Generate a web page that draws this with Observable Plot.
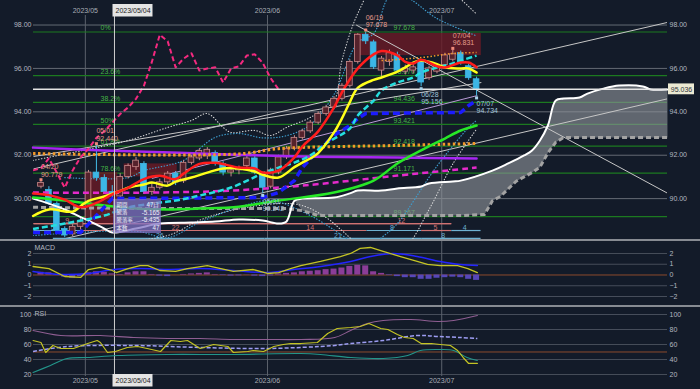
<!DOCTYPE html>
<html>
<head>
<meta charset="utf-8">
<script src="https://cdn.jsdelivr.net/npm/d3@7"></script>
<script src="https://cdn.jsdelivr.net/npm/@observablehq/plot@0.6"></script>
<style>
html,body{margin:0;padding:0;background:#131b29;}
#chart{position:relative;width:700px;height:389px;background:#131b29;overflow:hidden;}
#chart svg{position:absolute;left:0;display:block;}
.sep{position:absolute;left:0;width:700px;height:2px;background:#878b92;}
</style>
</head>
<body>
<div id="chart"></div>
<script>
// ================= DATA =================
const candleOpen  = [90.55,90.40,89.75,88.60,88.35,88.70,89.00,91.20,90.95,90.30,90.10,91.00,91.45,91.60,90.30,90.50,90.75,91.15,90.80,91.65,91.85,91.95,92.10,91.60,91.20,91.30,91.50,91.85,91.10,90.55,91.20,91.90,92.30,92.80,93.10,93.50,93.90,94.20,94.60,95.20,96.30,97.55,97.20,95.90,96.30,96.60,95.85,95.90,96.30,95.55,95.85,96.15,96.40,96.70,96.10,95.50];
const candleHigh  = [90.78,90.55,89.85,88.70,88.80,89.10,91.30,92.44,91.10,90.60,91.15,91.60,91.90,91.70,90.70,90.90,91.25,91.25,91.75,92.00,92.30,92.35,92.20,91.70,91.45,91.50,91.95,91.95,91.20,91.40,92.00,92.40,92.90,93.20,93.60,94.00,94.30,94.70,95.30,96.40,97.60,97.678,97.30,96.55,96.85,96.75,96.15,96.20,96.40,96.10,96.20,96.70,96.831,96.80,96.20,95.60];
const candleLow   = [90.45,89.70,88.40,88.20,88.25,88.55,88.90,90.80,90.20,90.05,90.00,90.90,91.30,90.20,90.15,90.40,90.65,90.60,90.70,91.55,91.75,91.80,91.50,91.05,91.00,91.10,91.40,91.10,90.242,90.45,91.10,91.80,92.20,92.70,93.00,93.40,93.80,94.10,94.50,95.10,96.20,97.10,95.95,95.60,96.10,95.80,95.70,95.75,95.156,95.45,95.75,96.05,96.30,96.15,95.45,94.734];
const candleClose = [90.72,89.78,88.50,88.30,88.70,88.95,91.20,90.95,90.30,90.15,91.00,91.50,91.75,90.30,90.50,90.75,91.15,90.75,91.65,91.90,92.20,92.25,91.60,91.20,91.30,91.40,91.85,91.20,90.50,91.30,91.90,92.30,92.80,93.10,93.50,93.90,94.20,94.60,95.20,96.30,97.55,97.25,96.05,96.45,96.70,95.90,96.00,96.05,95.35,96.00,96.10,96.60,96.65,96.25,95.55,95.036];

const priceTicks = [90, 92, 94, 96, 98];
const monthIdx = [6, 29, 51];
const monthLabels = ["2023/05", "2023/06", "2023/07"];
const crossIdx = 9;
const crossLabel = "2023/05/04";

const fibPct = ["0%", "23.6%", "38.2%", "50%", "61.8%", "78.6%", "100%"];
const fibVal = [97.678, 95.670, 94.436, 93.421, 92.418, 91.171, 89.167];

const hiIdx = [0, 7, 41, 52];
const hiVal = [90.779, 92.440, 97.678, 96.831];
const hiDate = ["04/20", "05/01", "06/19", "07/04"];
const loIdx = [28, 48, 55];
const loVal = [90.242, 95.156, 94.734];
const loDate = ["05/31", "06/28", "07/07"];

const maRed = [[-1,90.24],[1,90.16],[3,89.95],[5,89.6],[7,89.8],[9,90.2],[11,90.5],[13,90.9],[15,91.05],[17,90.9],[18,91.15],[20,91.6],[22,91.65],[25,91.43],[27,91.39],[28,91.2],[30,91.29],[32,91.9],[33,92.4],[35,93.1],[37,94.2],[38,94.9],[40,96.0],[42,96.65],[43,96.8],[45,96.6],[46,96.3],[47,96.23],[48,96.4],[50,96.1],[51,96.04],[53,96.27],[54,96.27],[55,96.05]];
const maYellow = [[-1,89.2],[1,89.5],[4,89.4],[5,89.65],[6,89.9],[8,90.1],[10,90.35],[11,90.5],[13,90.65],[14,90.74],[16,90.6],[17,90.78],[19,90.97],[21,91.2],[23,91.39],[25,91.39],[27,91.25],[28,91.1],[30,90.97],[32,91.45],[33,91.66],[34,91.85],[35,92.1],[37,93.05],[38,93.7],[39,94.45],[40,95.1],[42,95.47],[43,95.58],[45,95.85],[46,96.05],[47,96.27],[48,96.36],[50,96.2],[51,96.04],[53,96.0],[54,96.0],[55,95.81]];
const maCyan = [[-1,88.6],[3,88.85],[8,89.22],[11,89.59],[14,89.77],[17,89.91],[20,90.14],[24,90.51],[28,91.16],[30,91.43],[32,91.66],[34,91.99],[36,92.54],[39,93.23],[40,93.83],[42,94.52],[43,94.98],[45,95.35],[47,95.58],[48,95.81],[50,96.04],[52,96.23],[53,96.36],[55,96.59]];
const kijunBlue = [[-1,88.44],[5,88.44],[7,89.22],[9,90.0],[28,90.05],[30,90.28],[32,90.83],[33,91.43],[35,92.22],[37,92.91],[39,93.37],[40,93.69],[41,93.92],[53,93.97],[54,94.29],[55,94.52]];
const maGreen = [[-1,90.05],[3,89.91],[8,89.68],[12,89.54],[16,89.5],[20,89.54],[25,89.63],[30,89.91],[37,90.28],[42,90.83],[45,91.62],[48,92.22],[51,92.77],[53,93.14],[55,93.37]];
const maPurple = [[-1,92.35],[8,92.22],[20,92.08],[33,91.94],[45,91.89],[55,91.85]];
const maMagenta = [[-1,90.28],[14,90.28],[24,90.37],[33,90.6],[45,91.06],[55,91.43]];
const maOrange = [[-1,92.08],[25,92.06],[30,92.3],[45,92.45],[55,92.54]];
const midOrange = [[43,96.36],[48,96.5],[52,96.69],[55,96.73]];

const spanA = [[-1,90.0],[1,89.77],[3,89.5],[5,89.15],[6,88.99],[8,88.62],[9,88.44],[12,88.62],[15,88.85],[19,88.9],[22,88.94],[25,89.04],[28,88.99],[30,88.85],[31,88.95],[32,89.9],[33,90.0],[37,90.05],[39,90.24],[40,90.37],[43,90.37],[45,90.47],[48,90.56],[49,90.7],[52,90.79],[53,90.83],[57,91.29],[59,91.62],[61,91.99],[62,92.22],[63,92.68],[64,93.37],[65,94.52],[66,94.61],[68,94.66],[69,94.84],[71,95.07],[73,95.21],[76,95.17],[77,95.03],[79.1,95.03]];
const spanB = [[-1,89.6],[14,89.54],[24,89.54],[31,89.54],[33,89.45],[35,89.22],[53,89.22],[56,89.27],[57,89.9],[58,90.1],[60,90.8],[62,91.2],[63,91.45],[64,92.1],[65,92.6],[66,92.82],[79.1,92.82]];

const bbUpper2 = [[-1,91.76],[5,92.2],[11,92.68],[16,93.28],[19,93.6],[21,93.92],[23,93.28],[24,93.05],[27,93.14],[29,92.91],[31,93.28],[34,93.74],[37,94.52],[38,96.36],[40,98.53],[43,100.3],[47,100.6],[51,99.8],[55,98.5]];
const bbLower2 = [[-1,88.1],[8,88.0],[16,88.3],[20,89.0],[24,89.45],[30,89.77],[33,89.68],[36,89.13],[38,88.53],[40,87.9],[43,87.3],[46,87.75],[49,89.5],[52,91.6],[55,93.2]];
const bbUpper1 = [[3,90.97],[11,90.97],[13,91.29],[18,91.76],[22,92.82],[25,93.0],[28,92.8],[31,92.9],[34,93.4],[37,94.8],[40,97.2],[42,97.6],[44,99.3],[46,99.3],[50,98.3],[55,97.5]];
const bbLower1 = [[-1,88.3],[12,88.5],[16,88.2],[20,88.9],[25,89.6],[29,89.91],[34,89.22],[39,88.07],[41,87.6],[43,88.2],[45,88.85],[50,91.5],[54,93.28],[55,93.6]];

// trend lines: [startIdx, startVal, endIdx, endVal]
const trendLines = [[-0.944,91.37,79.106,98.12],[2,88.07,79.106,94.6],[39.8,98.0,79.106,90.25],[-0.944,91.94,55.6,95.35]];
const trendLav = [[14,90.93,55.1,94.75]];

// supply zones: [startIdx, endIdx, top, bottom]
const zones = [[39.6,55.6,97.61,96.59],[6.1,9.7,91.2,88.8],[10.5,17.2,91.6,91.0]];

// period counts: [rowValue, startIdx, endIdx, label, labelIdx, up?]
const countSegs = [
  [88.85,-0.944,51.8,"9",3.3,1],[88.85,-0.944,51.8,"12",45.5,1],
  [88.53,-0.944,5.3,"5",1.5,0],[88.53,5.3,28.2,"22",17,1],[88.53,28.2,41.1,"14",34,1],
  [88.53,41.1,48,"8",44.3,0],[88.53,48,51.8,"5",49.8,1],[88.53,51.8,55.5,"4",53.5,0],
  [88.17,1.5,28.2,"26",15,0],[88.17,28.2,48,"21",37.5,0],[88.17,48,55.5,"8",50.8,0]
];

const infoLabels = ["期間", "騰落", "騰落率", "本数"];
const infoValues = ["47日", "-5.165", "-5.435", "47"];

// MACD
const macdTicks = [2, 1, 0, -1, -2];
const macdLine = [[-1,0.79],[1,0.6],[3,-0.14],[5,-0.23],[6,0.51],[7.5,0.7],[9,0.42],[9.5,0.23],[11,0.6],[12.5,0.88],[13.5,0.88],[15,0.42],[17,0.33],[18.5,0.6],[21,0.88],[22.7,0.6],[24.3,0.33],[26.8,0.51],[28.6,0.14],[30,0.23],[31.5,0.6],[32.8,0.88],[35.3,1.26],[37.8,1.72],[39.1,2.0],[40.3,2.47],[41.6,2.56],[43.2,2.19],[45.4,1.72],[47.5,1.26],[48.8,0.98],[50.4,0.88],[52.6,0.88],[53.9,0.6],[55.1,0.23]];
const macdSignal = [[-1,0.33],[2.5,0.05],[6,0.14],[9.2,0.51],[12.6,0.6],[16,0.51],[20.1,0.6],[24.3,0.42],[28.6,0.23],[31.9,0.51],[35.3,0.79],[39.1,1.26],[41.6,1.72],[44.5,2.0],[47.5,1.72],[50.4,1.26],[52.9,0.98],[55.1,0.88]];
const macdHist = [0.25,0.2,-0.05,-0.2,-0.3,-0.15,0.2,0.3,0.25,0.1,0.05,0.2,0.3,0.3,0.05,-0.1,-0.15,0.0,0.05,0.1,0.15,0.2,0.05,-0.05,-0.1,-0.08,0.02,-0.1,-0.15,-0.08,0.1,0.15,0.2,0.3,0.35,0.4,0.5,0.55,0.65,0.8,0.9,0.85,0.3,0.15,-0.05,-0.15,-0.25,-0.25,-0.4,-0.4,-0.3,-0.25,-0.2,-0.25,-0.4,-0.5];

// RSI
const rsiTicks = [100, 80, 60, 40, 20];
const rsiLine = [[-1,65.3],[0,62.7],[0.6,49.3],[1.5,58.7],[2.5,54.7],[4.1,54.7],[5.9,61.3],[7.1,65.3],[7.5,62.7],[8.4,49.3],[9.4,50.7],[10.9,56],[12.2,57.3],[13.4,54.7],[15.1,50.7],[16.4,65.3],[17.6,64],[18.5,65.3],[20.1,54.7],[21.8,60],[23.6,57.3],[24.3,49.3],[26.1,50.7],[26.8,52],[28.1,50.7],[29.4,57.3],[30.6,60],[31.5,61.3],[32.8,61.3],[34.9,62.7],[36.2,74.7],[37.4,81.3],[39.1,82.7],[40.3,84],[41.4,88],[42,85.3],[42.9,81.3],[43.8,80],[45,73.3],[45.9,69.3],[47,68],[48,61.3],[49.3,61.3],[50.4,60],[51.7,58.7],[52.6,52],[53.3,42.7],[54,34.7],[55.1,34.7]];
const rsiAvg = [[-1,50.7],[3.3,57.3],[11.7,58.7],[20.1,56],[28.6,54.7],[37.1,58.7],[39.1,61.3],[43.2,65.3],[47.5,72],[50.1,70.7],[53,69.3],[55.1,68]];
const rsiUpper = [[-1,78.7],[2.5,72],[7.5,72],[11.7,69.3],[16,68],[20.1,68],[24.3,66.7],[28.6,66.7],[32.8,66.7],[37.1,69.3],[39.1,78.7],[41.2,88],[43.2,92],[46.7,93.3],[50.1,90.7],[52.1,92],[55.1,98.7]];
const rsiLower = [[-1,22.7],[1.2,32],[3.3,41.3],[5.9,42.7],[9.7,45.3],[16,46.7],[24.3,46.7],[32.8,48],[35.3,46.7],[39.1,42.7],[43.2,41.3],[46.3,45.3],[47.9,52],[50.4,53.3],[52.1,52],[53.8,42.7],[55.1,38.7]];

// ================= LAYOUT =================
const W = 700, ML = 33, MR = 33;
const XD = [-0.944, 79.106];
const MAIN_H = 240, YD = [88.07, 99.13];
const MACD_H = 66, MACD_YD = [-3.023, 3.116];
const RSI_H = 83, RSI_MB = 13, RSI_YD = [17.33, 110.67];
const GRID_OFF = -0.4, CROSS_OFF = 0.28;
const xi = px => XD[0] + (px - ML) * (XD[1] - XD[0]) / (W - ML - MR);
const yv = py => YD[1] - py * (YD[1] - YD[0]) / MAIN_H;
const ryv = py => RSI_YD[1] - py * (RSI_YD[1] - RSI_YD[0]) / (RSI_H - RSI_MB);

const FONT = "'Liberation Sans', Arial, sans-serif";
const JFONT = "'Noto Sans CJK JP', sans-serif";
const style = {background: "transparent", color: "#b3b8c0", fontSize: "7px", fontFamily: FONT, overflow: "visible"};
const xy = {x: d => d[0], y: d => d[1]};
const idx = d3.range(candleOpen.length);
const isUp = k => candleClose[k] >= candleOpen[k];
const lastClose = candleClose[candleClose.length - 1];
const chikou = candleClose.map((c, j) => [j - 25, c]).filter(d => d[0] >= -1);
const cloudPoly = [...spanA.filter(d => d[0] >= 32), ...spanB.filter(d => d[0] >= 32).reverse()];
const salmon = "#cf7272", lblue = "#6fb2d2";

// ================= MAIN PANEL =================
const main = Plot.plot({
  width: W, height: MAIN_H, marginLeft: ML, marginRight: MR, marginTop: 0, marginBottom: 0,
  style,
  x: {domain: XD, axis: null},
  y: {domain: YD, axis: null},
  marks: [
    Plot.ruleY(priceTicks, {stroke: "#646a74", strokeWidth: 1}),
    Plot.ruleX(monthIdx, {x: d => d + GRID_OFF, y1: YD[0], y2: yv(15), stroke: "#5c626c"}),
    Plot.ruleY(fibVal, {stroke: "#1c7a20", strokeWidth: 1.2}),
    Plot.text(fibPct, {x: () => xi(100), y: (d, k) => fibVal[k], text: d => d, dy: -4, textAnchor: "start", fill: "#46b446"}),
    Plot.text(fibVal, {x: () => xi(393), y: d => d, text: d => d.toFixed(3), dy: -4, textAnchor: "start", fill: "#46b446"}),
    Plot.rect(zones, {x1: d => d[0], x2: d => d[1], y1: d => d[2], y2: d => d[3], fill: "#6c1a25", fillOpacity: 0.8}),
    Plot.line(cloudPoly, {...xy, fill: "#8f959b", fillOpacity: 0.62, stroke: "none", curve: "linear"}),
    Plot.link(trendLines, {x1: d => d[0], y1: d => d[1], x2: d => d[2], y2: d => d[3], stroke: "#c6c6c6", strokeWidth: 1, clip: true}),
    Plot.link(trendLav, {x1: d => d[0], y1: d => d[1], x2: d => d[2], y2: d => d[3], stroke: "#b99ad6", strokeWidth: 1, clip: true}),
    // period count rows
    Plot.link(countSegs, {x1: d => d[1], x2: d => d[2], y1: d => d[0], y2: d => d[0], stroke: d => d[5] ? salmon : lblue, strokeWidth: 1.2}),
    Plot.text(countSegs, {x: d => d[4], y: d => d[0], text: d => d[3], dy: -3, fill: d => d[5] ? salmon : lblue}),
    // bands
    Plot.line(bbUpper2, {...xy, stroke: "#d8d8d8", strokeWidth: 1.1, strokeDasharray: "0.5,2.4", curve: "catmull-rom", clip: true}),
    Plot.line(bbLower2, {...xy, stroke: "#d8d8d8", strokeWidth: 1.1, strokeDasharray: "0.5,2.4", curve: "catmull-rom", clip: true}),
    Plot.line(bbUpper1, {...xy, stroke: "#3e9ccc", strokeWidth: 1.2, strokeDasharray: "0.5,2.4", curve: "catmull-rom", clip: true}),
    Plot.line(bbLower1, {...xy, stroke: "#3e9ccc", strokeWidth: 1.2, strokeDasharray: "0.5,2.4", curve: "catmull-rom", clip: true}),
    // candles
    Plot.ruleX(idx, {x: k => k, y1: k => candleLow[k], y2: k => candleHigh[k], stroke: k => isUp(k) ? "#c98b8b" : "#45bce8", strokeWidth: 1}),
    Plot.rect(idx, {x1: k => k - 0.36, x2: k => k + 0.36, y1: k => candleOpen[k],
      y2: k => Math.abs(candleClose[k] - candleOpen[k]) < 0.04 ? candleOpen[k] + 0.04 : candleClose[k],
      fill: k => isUp(k) ? "#55222c" : "#3cb6e6", stroke: k => isUp(k) ? "#c98b8b" : "#3cb6e6", strokeWidth: 0.8}),
    // ichimoku spans
    Plot.line(spanB, {...xy, stroke: "#a3a3a3", strokeWidth: 3, strokeDasharray: "5,3", strokeLinecap: "butt"}),
    Plot.line(spanA, {...xy, stroke: "#ffffff", strokeWidth: 2, curve: "catmull-rom"}),
    // moving averages
    Plot.line(maPurple, {...xy, stroke: "#a726f2", strokeWidth: 2.5, curve: "catmull-rom"}),
    Plot.line(maMagenta, {...xy, stroke: "#e42acb", strokeWidth: 2.5, strokeDasharray: "6,4", strokeLinecap: "butt", curve: "catmull-rom"}),
    Plot.line(maOrange, {...xy, stroke: "#f39a2a", strokeWidth: 3, strokeDasharray: "2.5,2.5", strokeLinecap: "butt", curve: "catmull-rom"}),
    Plot.line(midOrange, {...xy, stroke: "#f39a2a", strokeWidth: 1.5, strokeDasharray: "1.5,2", strokeLinecap: "butt", curve: "catmull-rom"}),
    Plot.line(maGreen, {...xy, stroke: "#27e827", strokeWidth: 2.5, curve: "catmull-rom"}),
    Plot.line(kijunBlue, {...xy, stroke: "#1b1bff", strokeWidth: 3.5, strokeDasharray: "7,4", strokeLinecap: "butt"}),
    Plot.line(maCyan, {...xy, stroke: "#25dede", strokeWidth: 2.5, strokeDasharray: "6,3", strokeLinecap: "butt", curve: "catmull-rom"}),
    Plot.line(chikou, {...xy, stroke: "#f4297f", strokeWidth: 2, strokeDasharray: "5,3", strokeLinecap: "butt", clip: true}),
    Plot.line(maYellow, {...xy, stroke: "#ffff1a", strokeWidth: 2.5, curve: "catmull-rom"}),
    Plot.line(maRed, {...xy, stroke: "#ff1d1d", strokeWidth: 2.5, curve: "catmull-rom"}),
    // current price
    Plot.ruleY([lastClose], {stroke: "#e4e4e4", strokeWidth: 1.5}),
    Plot.rect([lastClose], {x1: () => xi(668), x2: () => xi(694), y1: d => d + 0.25, y2: d => d - 0.25, fill: "#ebe9d2"}),
    Plot.text([lastClose], {x: () => xi(681), y: d => d, text: d => d.toFixed(3), fill: "#30343a"}),
    // high / low labels
    Plot.dot(hiIdx, {x: d => d, y: (d, k) => hiVal[k], symbol: "square", r: 1.7, fill: "#f08a7a", dy: -2}),
    Plot.text(hiIdx, {x: d => d, y: (d, k) => hiVal[k], text: (d, k) => hiDate[k] + "\n" + hiVal[k].toFixed(3), textAnchor: "start", lineAnchor: "bottom", lineHeight: 1.05, dy: -5, fill: "#e59c8c"}),
    Plot.dot(loIdx, {x: d => d, y: (d, k) => loVal[k], symbol: "square", r: 1.7, fill: "#a9d3ea", dy: 2}),
    Plot.text(loIdx, {x: d => d, y: (d, k) => loVal[k], text: (d, k) => loDate[k] + "\n" + loVal[k].toFixed(3), textAnchor: "start", lineAnchor: "top", lineHeight: 1.05, dy: 5, fill: "#a3c6dc"}),
    // info box
    Plot.rect([0], {x1: () => xi(113), x2: () => xi(161), y1: () => yv(199), y2: () => yv(233), fill: "#8174c6", fillOpacity: 0.75}),
    Plot.text(infoLabels, {x: () => xi(116), y: (d, k) => yv(204.5 + k * 7.6), text: d => d, textAnchor: "start", fill: "#eeeef6", fontFamily: JFONT, fontSize: 5.4}),
    Plot.text(infoValues, {x: () => xi(159), y: (d, k) => yv(204.5 + k * 7.6), text: d => d, textAnchor: "end", fill: "#eeeef6", fontFamily: FONT, fontSize: 6.3}),
    // crosshair
    Plot.ruleX([crossIdx], {x: d => d + CROSS_OFF, y1: YD[0], y2: () => yv(16), stroke: "#cfcfcf", strokeWidth: 1}),
    // axes
    Plot.axisY(priceTicks, {anchor: "left", tickSize: 0, tickPadding: 2, tickFormat: d => d.toFixed(2), label: null}),
    Plot.axisY(priceTicks, {anchor: "right", tickSize: 0, tickPadding: 2, tickFormat: d => d.toFixed(2), label: null}),
    // top date labels
    Plot.text(monthLabels, {x: (d, k) => monthIdx[k] + GRID_OFF, text: d => d, frameAnchor: "top", lineAnchor: "middle", dy: 10, fill: "#a9aeb6"}),
    Plot.rect([0], {x1: () => xi(112.5), x2: () => xi(152.5), y1: () => yv(4), y2: () => yv(16.5), fill: "#e4e4e4"}),
    Plot.text([crossLabel], {x: () => xi(132.5), text: d => d, frameAnchor: "top", lineAnchor: "middle", dy: 10.3, fill: "#222"})
  ]
});

// ================= MACD PANEL =================
const macd = Plot.plot({
  width: W, height: MACD_H, marginLeft: ML, marginRight: MR, marginTop: 0, marginBottom: 0,
  style,
  x: {domain: XD, axis: null},
  y: {domain: MACD_YD, axis: null},
  marks: [
    Plot.ruleY(macdTicks.filter(t => t !== 0), {stroke: "#464d5a"}),
    Plot.ruleY([0], {stroke: "#8c4a2c", strokeWidth: 1}),
    Plot.ruleX(monthIdx, {x: d => d + GRID_OFF, stroke: "#5c626c"}),
    Plot.ruleX([crossIdx], {x: d => d + CROSS_OFF, stroke: "#cfcfcf"}),
    Plot.rect(macdHist, {x1: (d, k) => k - 0.38, x2: (d, k) => k + 0.38, y1: 0, y2: d => d, fill: d => d >= 0 ? "#8b3d98" : "#5747b9"}),
    Plot.line(macdSignal, {...xy, stroke: "#2424ff", strokeWidth: 1.5, curve: "catmull-rom"}),
    Plot.line(macdLine, {...xy, stroke: "#c4c424", strokeWidth: 1.3, curve: "linear"}),
    Plot.axisY(macdTicks, {anchor: "left", tickSize: 0, tickPadding: 2, label: null}),
    Plot.axisY(macdTicks, {anchor: "right", tickSize: 0, tickPadding: 2, label: null}),
    Plot.text(["MACD"], {frameAnchor: "top-left", text: d => d, textAnchor: "start", lineAnchor: "middle", dy: 6, dx: 1, fill: "#b3b8c0"})
  ]
});

// ================= RSI PANEL =================
const rsi = Plot.plot({
  width: W, height: RSI_H, marginLeft: ML, marginRight: MR, marginTop: 0, marginBottom: RSI_MB,
  style,
  x: {domain: XD, axis: null},
  y: {domain: RSI_YD, axis: null},
  marks: [
    Plot.ruleY(rsiTicks, {stroke: "#464d5a"}),
    Plot.ruleY([50], {stroke: "#8c4a2c"}),
    Plot.ruleX(monthIdx, {x: d => d + GRID_OFF, stroke: "#5c626c"}),
    Plot.ruleX([crossIdx], {x: d => d + CROSS_OFF, stroke: "#cfcfcf"}),
    Plot.line(rsiLower, {...xy, stroke: "#23958a", strokeWidth: 1.1, curve: "catmull-rom"}),
    Plot.line(rsiUpper, {...xy, stroke: "#8f5e92", strokeWidth: 1.1, curve: "catmull-rom"}),
    Plot.line(rsiAvg, {...xy, stroke: "#9d9df2", strokeWidth: 1.5, strokeDasharray: "4,2", strokeLinecap: "butt", curve: "catmull-rom"}),
    Plot.line(rsiLine, {...xy, stroke: "#c4c424", strokeWidth: 1.2}),
    Plot.axisY(rsiTicks, {anchor: "left", tickSize: 0, tickPadding: 2, label: null}),
    Plot.axisY(rsiTicks, {anchor: "right", tickSize: 0, tickPadding: 2, label: null}),
    Plot.text(["RSI"], {frameAnchor: "top-left", text: d => d, textAnchor: "start", lineAnchor: "middle", dy: 7, dx: 1, fill: "#b3b8c0"}),
    Plot.text(monthLabels, {x: (d, k) => monthIdx[k] + GRID_OFF, text: d => d, frameAnchor: "bottom", lineAnchor: "middle", dy: 4, fill: "#a9aeb6"}),
    Plot.rect([0], {x1: () => xi(112.5), x2: () => xi(152.5), y1: () => ryv(68), y2: () => ryv(80.5), fill: "#e4e4e4"}),
    Plot.text([crossLabel], {x: () => xi(132.5), text: d => d, frameAnchor: "bottom", lineAnchor: "middle", dy: 4.3, fill: "#222"})
  ]
});

const chart = document.getElementById("chart");
main.style.top = "0px";
macd.style.top = "241px";
rsi.style.top = "306px";
chart.appendChild(main);
chart.appendChild(macd);
chart.appendChild(rsi);
for (const t of [239, 305]) {
  const s = document.createElement("div");
  s.className = "sep";
  s.style.top = t + "px";
  chart.appendChild(s);
}
</script>
</body>
</html>
